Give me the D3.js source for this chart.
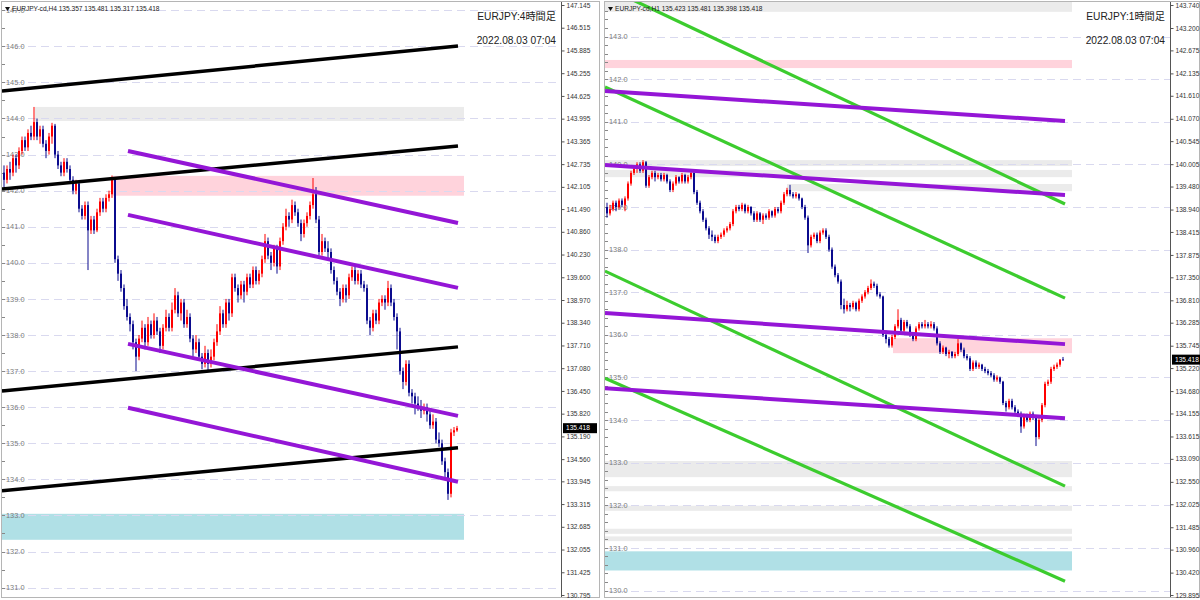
<!DOCTYPE html>
<html><head><meta charset="utf-8">
<script src="https://cdn.jsdelivr.net/npm/d3@7"></script>
<style>body{margin:0;background:#fff}svg{display:block}</style>
</head><body><svg id="c" width="1200" height="600"></svg>
<script>
// ---------- DATA ----------
const h4Candles = [
[142.5,142.7,142.1,142.3],[142.3,142.7,142.2,142.6],[142.6,142.8,142.3,142.5],[142.5,143.0,142.4,142.9],[142.9,143.0,142.5,142.7],
[142.7,143.2,142.6,143.1],[143.1,143.5,143.0,143.4],[143.4,143.5,143.1,143.2],[143.2,143.7,143.1,143.6],[143.6,143.8,143.4,143.5],
[143.5,144.32,143.4,143.9],[143.9,144.0,143.4,143.5],[143.5,143.8,143.3,143.7],[143.7,143.8,143.2,143.3],[143.3,143.4,142.9,143.1],
[143.1,143.6,143.0,143.5],[143.5,143.88,143.3,143.8],[143.8,143.85,142.9,143.0],[143.0,143.1,142.6,142.7],[142.7,142.8,142.4,142.5],
[142.5,142.9,142.4,142.8],[142.8,142.9,142.5,142.6],[142.6,142.7,142.2,142.3],[142.3,142.4,141.9,142.0],[142.0,142.3,141.9,142.2],
[142.2,142.25,141.4,141.5],[141.5,141.6,141.2,141.3],[141.3,141.7,141.2,141.6],[141.6,141.7,139.8,140.9],[140.9,141.3,140.8,141.2],
[141.2,141.3,140.8,140.9],[140.9,141.5,140.85,141.4],[141.4,141.8,141.3,141.7],[141.7,141.8,141.4,141.5],[141.5,141.9,141.4,141.8],
[141.8,142.0,141.7,141.9],[141.9,142.42,141.8,142.3],[142.3,142.35,140.0,140.1],[140.1,140.2,139.5,139.7],[139.7,139.8,139.2,139.3],
[139.3,139.4,138.7,138.8],[138.8,139.0,138.4,138.5],[138.5,138.6,138.1,138.3],[138.3,138.4,137.6,137.8],[137.8,137.9,137.0,137.4],
[137.4,138.0,137.3,137.9],[137.9,138.4,137.8,138.2],[138.2,138.3,137.6,137.8],[137.8,138.5,137.7,138.3],[138.3,138.4,137.9,138.0],
[138.0,138.6,137.9,138.4],[138.4,138.5,138.0,138.1],[138.1,138.2,137.5,137.7],[137.7,138.3,137.6,138.2],[138.2,138.7,138.1,138.5],
[138.5,138.6,138.1,138.2],[138.2,138.9,138.1,138.7],[138.7,139.3,138.6,139.1],[139.1,139.2,138.5,138.6],[138.6,139.0,138.4,138.9],
[138.9,139.0,138.2,138.3],[138.3,138.7,138.2,138.5],[138.5,138.6,137.8,137.9],[137.9,138.0,137.4,137.6],[137.6,138.0,137.5,137.8],
[137.8,137.9,137.3,137.4],[137.4,137.5,137.05,137.2],[137.2,137.7,137.1,137.5],[137.5,137.6,137.0,137.2],[137.2,137.6,137.1,137.4],
[137.4,137.9,137.3,137.8],[137.8,138.3,137.7,138.1],[138.1,138.8,138.0,138.6],[138.6,138.7,138.2,138.3],[138.3,139.0,138.2,138.9],
[138.9,139.0,138.4,138.6],[138.6,139.7,138.5,139.6],[139.6,139.7,139.2,139.3],[139.3,139.4,138.9,139.1],[139.1,139.5,139.0,139.4],
[139.4,139.5,138.9,139.2],[139.2,139.7,139.1,139.6],[139.6,139.7,139.3,139.4],[139.4,139.9,139.3,139.8],[139.8,139.9,139.4,139.5],
[139.5,139.8,139.4,139.7],[139.7,140.2,139.6,140.1],[140.1,140.8,140.0,140.6],[140.6,140.7,140.1,140.2],[140.2,140.3,139.8,140.0],
[140.0,140.5,139.9,140.4],[140.4,140.5,139.7,139.9],[139.9,140.7,139.8,140.6],[140.6,141.1,140.5,141.0],[141.0,141.5,140.9,141.3],
[141.3,141.4,141.0,141.2],[141.2,141.75,141.1,141.6],[141.6,141.7,141.3,141.4],[141.4,141.5,141.0,141.1],[141.1,141.2,140.6,140.8],
[140.8,141.2,140.7,141.1],[141.1,141.4,141.0,141.3],[141.3,141.7,141.2,141.6],[141.6,142.35,141.5,141.9],[141.9,142.1,141.1,141.2],
[141.2,141.3,140.2,140.3],[140.3,140.8,140.2,140.6],[140.6,140.7,140.3,140.4],[140.4,140.6,140.1,140.3],[140.3,140.4,139.7,139.8],
[139.8,139.9,139.4,139.5],[139.5,139.6,139.1,139.2],[139.2,139.3,138.8,139.0],[139.0,139.4,138.9,139.3],[139.3,139.4,138.9,139.1],
[139.1,139.7,139.0,139.6],[139.6,139.9,139.5,139.8],[139.8,139.9,139.4,139.5],[139.5,139.8,139.4,139.7],[139.7,139.8,139.3,139.4],
[139.4,139.5,139.2,139.3],[139.3,139.4,138.3,138.4],[138.4,138.5,138.0,138.2],[138.2,138.7,138.1,138.6],[138.6,138.7,138.3,138.4],
[138.4,139.0,138.3,138.9],[138.9,139.1,138.8,139.0],[139.0,139.1,138.7,138.9],[138.9,139.5,138.8,139.3],[139.3,139.4,138.8,138.9],
[138.9,139.0,138.4,138.5],[138.5,138.6,137.6,138.1],[138.1,138.2,136.9,137.0],[137.0,137.1,136.5,136.7],[136.7,137.3,136.6,137.2],
[137.2,137.3,136.3,136.4],[136.4,136.5,136.1,136.3],[136.3,136.4,135.8,136.1],[136.1,136.3,135.9,136.0],[136.0,136.2,135.7,135.9],
[135.9,136.1,135.8,136.0],[136.0,136.1,135.6,135.8],[135.8,135.9,135.4,135.5],[135.5,135.8,135.4,135.6],[135.6,135.7,135.0,135.1],
[135.1,135.3,134.9,135.0],[135.0,135.1,134.4,134.5],[134.5,134.6,134.0,134.2],[134.2,134.3,133.43,133.6],[133.6,135.4,133.5,135.3],
[135.3,135.45,135.2,135.36],[135.357,135.481,135.317,135.418]
];
const h1Candles = [
[139.0,139.1,138.75,138.85],[138.85,139.05,138.8,138.95],[138.95,139.15,138.9,139.1],[139.1,139.15,138.9,139.0],[139.0,139.2,138.95,139.15],
[139.15,139.2,139.0,139.05],[139.05,139.25,138.9,139.2],[139.2,139.6,139.15,139.55],[139.55,139.85,139.5,139.8],[139.8,139.95,139.75,139.9],
[139.9,140.05,139.8,140.0],[140.0,140.05,139.8,139.85],[139.85,140.1,139.8,140.05],[140.05,140.08,139.45,139.5],[139.5,139.75,139.45,139.7],
[139.7,139.85,139.65,139.8],[139.8,139.85,139.6,139.7],[139.7,139.8,139.65,139.75],[139.75,139.8,139.6,139.65],[139.65,139.8,139.6,139.75],
[139.75,139.78,139.55,139.6],[139.6,139.65,139.35,139.4],[139.4,139.6,139.35,139.55],[139.55,139.75,139.5,139.7],[139.7,139.72,139.55,139.6],
[139.6,139.8,139.55,139.75],[139.75,139.78,139.55,139.6],[139.6,139.75,139.55,139.7],[139.7,139.87,139.65,139.8],[139.8,139.82,139.3,139.35],
[139.35,139.4,139.05,139.1],[139.1,139.15,138.85,138.9],[138.9,138.95,138.65,138.7],[138.7,138.75,138.45,138.5],[138.5,138.55,138.25,138.35],
[138.35,138.45,138.2,138.3],[138.3,138.35,138.15,138.2],[138.2,138.35,138.15,138.3],[138.3,138.4,138.25,138.35],[138.35,138.5,138.3,138.45],
[138.45,138.55,138.4,138.5],[138.5,138.65,138.45,138.6],[138.6,138.95,138.55,138.9],[138.9,139.05,138.85,139.0],[139.0,139.05,138.9,138.95],
[138.95,139.1,138.9,139.05],[139.05,139.08,138.85,138.9],[138.9,139.05,138.85,139.0],[139.0,139.02,138.8,138.85],[138.85,138.9,138.65,138.7],
[138.7,138.9,138.65,138.85],[138.85,138.88,138.65,138.7],[138.7,138.85,138.6,138.8],[138.8,138.85,138.7,138.75],[138.75,138.95,138.7,138.9],
[138.9,138.92,138.75,138.8],[138.8,139.0,138.75,138.95],[138.95,139.0,138.85,138.9],[138.9,139.15,138.85,139.1],[139.1,139.35,139.05,139.3],
[139.3,139.45,139.25,139.4],[139.4,139.52,139.25,139.3],[139.3,139.35,139.2,139.25],[139.25,139.35,139.2,139.3],[139.3,139.32,139.15,139.2],
[139.2,139.22,138.95,139.0],[139.0,139.05,138.7,138.75],[138.75,138.8,137.92,138.1],[138.1,138.35,138.05,138.3],[138.3,138.4,138.25,138.35],
[138.35,138.4,138.15,138.2],[138.2,138.45,138.15,138.4],[138.4,138.5,138.35,138.45],[138.45,138.5,138.25,138.3],[138.3,138.35,137.95,138.0],
[138.0,138.05,137.55,137.6],[137.6,137.65,137.35,137.4],[137.4,137.45,137.2,137.25],[137.25,137.3,136.6,136.7],[136.7,136.85,136.5,136.6],
[136.6,136.8,136.55,136.7],[136.7,136.75,136.55,136.65],[136.65,136.8,136.6,136.75],[136.75,136.78,136.55,136.6],[136.6,136.85,136.55,136.8],
[136.8,136.95,136.75,136.9],[136.9,137.05,136.85,137.0],[137.0,137.15,136.95,137.1],[137.1,137.3,137.05,137.2],[137.2,137.25,137.1,137.15],
[137.15,137.2,136.9,136.95],[136.95,137.0,136.85,136.9],[136.9,136.92,135.95,136.0],[136.0,136.1,135.8,135.9],[135.9,135.95,135.7,135.75],
[135.75,136.0,135.7,135.95],[135.95,136.25,135.9,136.2],[136.2,136.6,136.15,136.35],[136.35,136.4,136.05,136.1],[136.1,136.35,136.05,136.3],
[136.3,136.35,136.15,136.2],[136.2,136.25,135.95,136.0],[136.0,136.05,135.85,135.9],[135.9,136.2,135.85,136.15],[136.15,136.3,136.1,136.25],
[136.25,136.3,136.15,136.2],[136.2,136.35,136.15,136.25],[136.25,136.3,136.15,136.2],[136.2,136.32,136.15,136.25],[136.25,136.3,136.1,136.15],
[136.15,136.2,135.75,135.8],[135.8,135.85,135.55,135.6],[135.6,135.75,135.55,135.7],[135.7,135.72,135.5,135.55],[135.55,135.65,135.45,135.6],
[135.6,135.62,135.45,135.5],[135.5,135.6,135.45,135.55],[135.55,135.9,135.5,135.8],[135.8,135.82,135.6,135.65],[135.65,135.7,135.45,135.5],
[135.5,135.55,135.4,135.45],[135.45,135.5,135.15,135.2],[135.2,135.4,135.15,135.35],[135.35,135.4,135.2,135.25],[135.25,135.35,135.2,135.3],
[135.3,135.32,135.15,135.2],[135.2,135.25,135.1,135.15],[135.15,135.2,135.05,135.1],[135.1,135.15,135.0,135.05],[135.05,135.1,134.9,134.95],
[134.95,135.05,134.9,135.0],[135.0,135.02,134.85,134.9],[134.9,134.92,134.35,134.4],[134.4,134.45,134.2,134.3],[134.3,134.5,134.25,134.45],
[134.45,134.5,134.25,134.3],[134.3,134.35,134.15,134.2],[134.2,134.25,134.1,134.15],[134.15,134.2,133.7,133.85],[133.85,134.15,133.8,134.1],
[134.1,134.15,133.95,134.0],[134.0,134.2,133.95,134.15],[134.15,134.2,134.0,134.05],[134.05,134.1,133.39,133.6],[133.6,134.05,133.55,134.0],
[134.0,134.4,133.95,134.35],[134.35,134.9,134.3,134.85],[134.85,134.95,134.8,134.9],[134.9,135.25,134.85,135.2],[135.2,135.3,135.15,135.25],
[135.25,135.35,135.2,135.3],[135.3,135.42,135.25,135.423],[135.423,135.481,135.398,135.418]
];
const h4AxisTicks = [147.145,146.515,145.885,145.255,144.625,143.995,143.365,142.735,142.105,141.490,140.860,140.230,139.600,138.970,138.340,137.710,137.080,136.450,135.820,135.190,134.560,133.945,133.315,132.685,132.055,131.425,130.795];
const h1AxisTicks = [143.740,143.200,142.675,142.135,141.610,141.070,140.545,140.005,139.480,138.940,138.415,137.875,137.350,136.810,136.285,135.745,135.220,134.680,134.155,133.615,133.090,132.550,132.025,131.485,130.960,130.420,129.895];
const h4GridLevels = [147,146,145,144,143,142,141,140,139,138,137,136,135,134,133,132,131];
const h1GridLevels = [143,142,141,140,139,138,137,136,135,134,133,132,131,130];
// zones: [barFrom, barTo, priceTop, priceBottom, kind]
const h4Zones = [[10.33,153.33,144.32,143.93,'gray'],[36.33,153.33,142.41,141.86,'pink'],[-0.67,153.33,133.045,132.325,'blue']];
const h1Zones = [[-0.67,155,143.83,143.58,'gray'],[-0.67,155,142.45,142.26,'pink'],[-0.67,155,140.10,139.96,'gray'],[-0.67,155,139.87,139.70,'gray'],
 [60,155,139.54,139.37,'gray'],[95.33,155,135.92,135.57,'pink'],[-0.67,155,133.04,132.66,'gray'],[-0.67,155,132.45,132.33,'gray'],
 [-0.67,155,131.99,131.87,'gray'],[-0.67,155,131.45,131.33,'gray'],[-0.67,155,131.27,131.16,'gray'],[-0.67,155,130.92,130.47,'blue']];
// trend lines: [kind, barFrom, priceFrom, barTo, priceTo]
const h4Lines = [['black',-0.67,144.763,151.33,146.009],['black',-0.67,142.048,151.33,143.239],['black',-0.67,136.45,151.33,137.671],['black',-0.67,133.682,151.33,134.874],
 ['purple',41.33,143.10,151.33,141.106],['purple',41.33,141.328,151.33,139.306],['purple',41.33,137.754,151.33,135.76],['purple',41.33,135.982,151.33,133.932]];
const h1Lines = [['green',8.67,143.857,152.67,139.069],['green',-0.67,141.815,152.67,136.862],['green',-0.67,137.496,152.67,132.449],['green',-0.67,134.984,152.67,130.219],
 ['purple',-0.67,141.721,152.67,141.017],['purple',-0.67,139.984,152.67,139.28],['purple',-0.67,136.51,152.67,135.782],['purple',-0.67,134.749,152.67,134.045]];
const h4Header = "EURJPY-cd,H4  135.357 135.481 135.317 135.418";
const h1Header = "EURJPY-cd,H1  135.423 135.481 135.398 135.418";
const h4Title = ["EURJPY:4時間足","2022.08.03 07:04"];
const h1Title = ["EURJPY:1時間足","2022.08.03 07:04"];
const lastPrice = 135.418;

// ---------- STYLES ----------
const zoneColor = {gray:'#ebebeb', pink:'#ffd3dc', blue:'#b0e0e6'};
const lineStyle = {black:{c:'#000',w:3.5}, purple:{c:'#9416d6',w:4}, green:{c:'#3ccc2e',w:3.2}};
const bullC = '#ff0000', bearC = '#0b0b8e';
const FONT = '"Liberation Sans","Noto Sans CJK JP",sans-serif';

const svg = d3.select('#c');
svg.append('rect').attr('width',1200).attr('height',600).attr('fill','#fff');

function drawPanel(cfg){
  const g = svg.append('g');
  const {left, right, top, bottom, axisX, frameR} = cfg;
  const x = d3.scaleLinear().domain([0, cfg.candles.length-1]).range(cfg.xr);
  const y = d3.scaleLinear().domain(cfg.yd).range([5, 595]);
  const clipId = 'clip'+cfg.id;
  svg.append('clipPath').attr('id',clipId).append('rect').attr('x',left).attr('y',top).attr('width',axisX-left).attr('height',bottom-top);
  const pg = g.append('g').attr('clip-path',`url(#${clipId})`);
  // zones
  pg.selectAll('rect.z').data(cfg.zones).join('rect')
    .attr('x',d=>x(d[0])).attr('width',d=>x(d[1])-x(d[0]))
    .attr('y',d=>y(d[2])).attr('height',d=>y(d[3])-y(d[2]))
    .attr('fill',d=>zoneColor[d[4]]);
  // grid
  pg.selectAll('line.gr').data(cfg.grid).join('line')
    .attr('x1',left).attr('x2',axisX).attr('y1',d=>Math.round(y(d))+0.5).attr('y2',d=>Math.round(y(d))+0.5)
    .attr('stroke','#d9d9ef').attr('stroke-width',1).attr('stroke-dasharray','8,5');
  // grid labels
  pg.selectAll('text.gl').data(cfg.grid).join('text')
    .attr('x',left+4).attr('y',d=>y(d)).attr('dy','0.35em')
    .attr('font-family',FONT).attr('font-size',7.4).attr('fill','#7a7a7a')
    .text(d=>d3.format('.1f')(d));
  // minor ticks on left edge
  pg.selectAll('line.mt').data(y.ticks(cfg.minorCount)).join('line')
    .attr('x1',left).attr('x2',left+3).attr('y1',d=>Math.round(y(d))+0.5).attr('y2',d=>Math.round(y(d))+0.5)
    .attr('stroke','#888').attr('stroke-width',1);
  // candles
  const cg = pg.append('g');
  cg.selectAll('line.w').data(cfg.candles).join('line')
    .attr('x1',(d,i)=>Math.round(x(i))).attr('x2',(d,i)=>Math.round(x(i)))
    .attr('y1',d=>y(d[1])).attr('y2',d=>y(d[2]))
    .attr('stroke',d=>d[3]>=d[0]?bullC:bearC).attr('stroke-width',1);
  cg.selectAll('rect.b').data(cfg.candles).join('rect')
    .attr('x',(d,i)=>Math.round(x(i))-1).attr('width',2)
    .attr('y',d=>y(Math.max(d[0],d[3]))).attr('height',d=>Math.max(1,Math.abs(y(d[0])-y(d[3]))))
    .attr('fill',d=>d[3]>=d[0]?bullC:bearC);
  // trend lines
  pg.selectAll('line.t').data(cfg.lines).join('line')
    .attr('x1',d=>x(d[1])).attr('y1',d=>y(d[2])).attr('x2',d=>x(d[3])).attr('y2',d=>y(d[4]))
    .attr('stroke',d=>lineStyle[d[0]].c).attr('stroke-width',d=>lineStyle[d[0]].w);
  // header
  const hx = left+3;
  g.append('path').attr('d',`M${hx},${7}L${hx+5},${7}L${hx+2.5},${11}Z`).attr('fill','#111');
  g.append('text').attr('x',hx+7).attr('y',11).attr('font-family',FONT).attr('font-size',6.6).attr('fill','#222').text(cfg.header);
  // title
  g.append('text').attr('x',axisX-5).attr('y',20).attr('text-anchor','end').attr('font-family',FONT).attr('font-size',10.2).attr('fill','#222').text(cfg.title[0]);
  g.append('text').attr('x',axisX-5).attr('y',44).attr('text-anchor','end').attr('font-family',FONT).attr('font-size',10.2).attr('fill','#222').text(cfg.title[1]);
  // frame
  g.append('rect').attr('x',left-0.5).attr('y',top-0.5).attr('width',frameR-left+1).attr('height',bottom-top+1)
    .attr('fill','none').attr('stroke','#b5b5b5');
  // price axis
  const ax = d3.axisRight(y).tickValues(cfg.axisTicks).tickFormat(d3.format('.3f')).tickSize(3).tickPadding(2);
  const ag = g.append('g').attr('transform',`translate(${axisX+0.5},0)`).call(ax);
  ag.select('.domain').attr('d',`M0,${top}V${bottom}`).attr('stroke','#555');
  ag.selectAll('line').attr('stroke','#555');
  ag.selectAll('text').attr('font-family',FONT).attr('font-size',6.6).attr('fill','#333');
  // last price label
  const ly = y(lastPrice);
  g.append('rect').attr('x',axisX+2).attr('y',ly-5).attr('width',cfg.boxW).attr('height',10).attr('fill','#000');
  g.append('text').attr('x',axisX+5).attr('y',ly).attr('dy','0.35em').attr('font-family',FONT).attr('font-size',6.6).attr('fill','#fff').text(d3.format('.3f')(lastPrice));
}

drawPanel({id:'h4', candles:h4Candles, xr:[4,457], yd:[147.145,130.795], left:2, right:561, top:2, bottom:597, axisX:561, frameR:599,
  zones:h4Zones, lines:h4Lines, grid:h4GridLevels, axisTicks:h4AxisTicks, header:h4Header, title:h4Title, minorCount:35, boxW:34});
drawPanel({id:'h1', candles:h1Candles, xr:[607,1063], yd:[143.74,129.895], left:605, right:1170, top:2, bottom:597, axisX:1170, frameR:1199,
  zones:h1Zones, lines:h1Lines, grid:h1GridLevels, axisTicks:h1AxisTicks, header:h1Header, title:h1Title, minorCount:70, boxW:28});
</script></body></html>
